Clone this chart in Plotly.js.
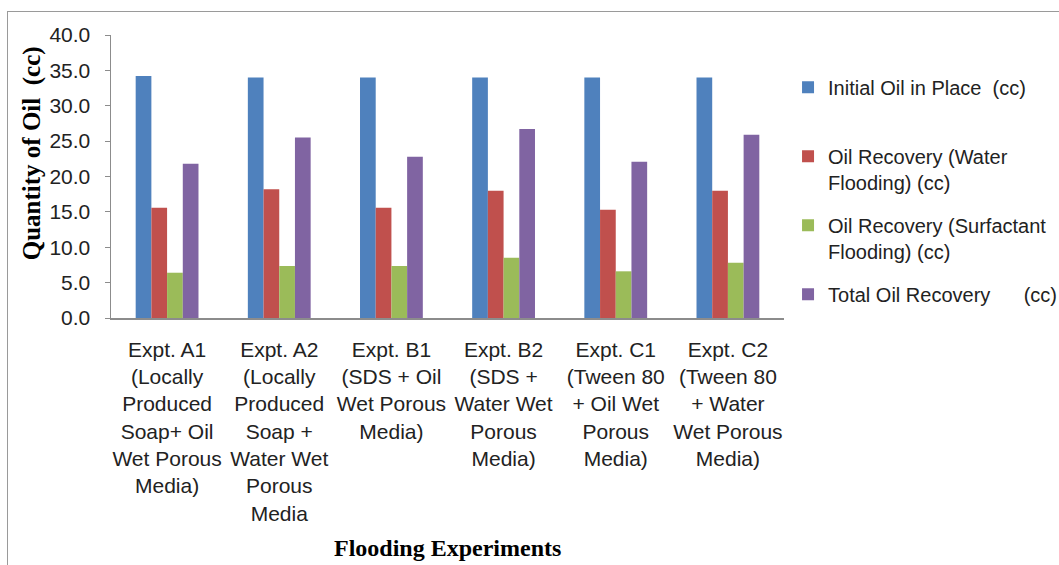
<!DOCTYPE html>
<html>
<head>
<meta charset="utf-8">
<script src="https://cdn.plot.ly/plotly-3.0.1.min.js"></script>
<style>
  html, body { margin: 0; padding: 0; background: #ffffff; }
  #wrap { position: relative; width: 1059px; height: 565px; overflow: hidden; }
  #frame { position: absolute; left: 7px; top: 11px; width: 1200px; height: 700px; border: 1px solid #9a9a9a; box-sizing: border-box; }
  #chart { position: absolute; left: 0; top: 0; width: 1059px; height: 565px; }
</style>
</head>
<body>
<div id="wrap">
  <div id="frame"></div>
  <div id="chart"></div>
</div>
<script>
const categories = [
  "Expt. A1<br>(Locally<br>Produced<br>Soap+ Oil<br>Wet Porous<br>Media)",
  "Expt. A2<br>(Locally<br>Produced<br>Soap +<br>Water Wet<br>Porous<br>Media",
  "Expt. B1<br>(SDS + Oil<br>Wet Porous<br>Media)",
  "Expt. B2<br>(SDS +<br>Water Wet<br>Porous<br>Media)",
  "Expt. C1<br>(Tween 80<br>+ Oil Wet<br>Porous<br>Media)",
  "Expt. C2<br>(Tween 80<br>+ Water<br>Wet Porous<br>Media)"
];
const seriesNames = [
  "Initial Oil in Place  (cc)<br> ",
  "Oil Recovery (Water<br>Flooding) (cc)",
  "Oil Recovery (Surfactant<br>Flooding) (cc)",
  "Total Oil Recovery      (cc)"
];
const initialOil      = [34.2, 34.0, 34.0, 34.0, 34.0, 34.0];
const waterFlooding   = [15.6, 18.2, 15.6, 18.0, 15.3, 18.0];
const surfFlooding    = [6.4, 7.35, 7.35, 8.5, 6.6, 7.8];
const totalRecovery   = [21.8, 25.5, 22.8, 26.7, 22.1, 25.9];
const colors = ["#4F81BD", "#C0504D", "#9BBB59", "#8064A2"];
const yTitle = "Quantity of Oil  (cc)";
const xTitle = "Flooding Experiments";

const allValues = [initialOil, waterFlooding, surfFlooding, totalRecovery];
const idx = categories.map((c, i) => i);

const traces = allValues.map((vals, k) => ({
  type: "bar",
  x: idx,
  y: vals,
  name: seriesNames[k],
  legendgroup: "g" + k,
  marker: { color: colors[k], line: { width: 0 } },
  hoverinfo: "y"
}));

const sans = "Liberation Sans, Arial, sans-serif";
const serif = "Liberation Serif, Times New Roman, serif";

const layout = {
  width: 1059,
  height: 565,
  paper_bgcolor: "rgba(0,0,0,0)",
  plot_bgcolor: "rgba(0,0,0,0)",
  margin: { l: 111, r: 275, t: 35, b: 247, autoexpand: false },
  barmode: "group",
  bargap: 0.44,
  bargroupgap: 0,
  showlegend: true,
  legend: {
    x: 1.006, xanchor: "left",
    y: 0.884, yanchor: "top",
    font: { family: sans, size: 20, color: "#222" },
    valign: "top",
    tracegroupgap: 14,
    bgcolor: "rgba(0,0,0,0)"
  },
  xaxis: {
    tickmode: "array",
    tickvals: idx,
    ticktext: categories,
    range: [-0.5, categories.length - 0.5],
    showline: true,
    linecolor: "#8c8c8c",
    linewidth: 1.5,
    ticks: "",
    ticklabelstandoff: 12,
    tickfont: { family: sans, size: 21, color: "#222" },
    showgrid: false,
    zeroline: false,
    fixedrange: true
  },
  yaxis: {
    range: [0, 40],
    dtick: 5,
    tickformat: ".1f",
    showline: true,
    linecolor: "#8c8c8c",
    linewidth: 1.5,
    ticks: "outside",
    ticklen: 5,
    tickcolor: "#8c8c8c",
    ticklabelstandoff: 10,
    tickfont: { family: sans, size: 21, color: "#222" },
    showgrid: false,
    zeroline: false,
    fixedrange: true
  },
  annotations: [
    {
      text: yTitle, textangle: -90,
      xref: "paper", yref: "paper",
      x: -0.117, y: 0.583, xanchor: "center", yanchor: "middle",
      showarrow: false,
      font: { family: serif, size: 25, color: "#000", weight: "bold" }
    },
    {
      text: xTitle,
      xref: "paper", yref: "paper",
      x: 0.5, y: -0.813, xanchor: "center", yanchor: "middle",
      showarrow: false,
      font: { family: serif, size: 24, color: "#000", weight: "bold" }
    }
  ]
};

Plotly.newPlot("chart", traces, layout, { displayModeBar: false, staticPlot: true });
</script>
</body>
</html>
